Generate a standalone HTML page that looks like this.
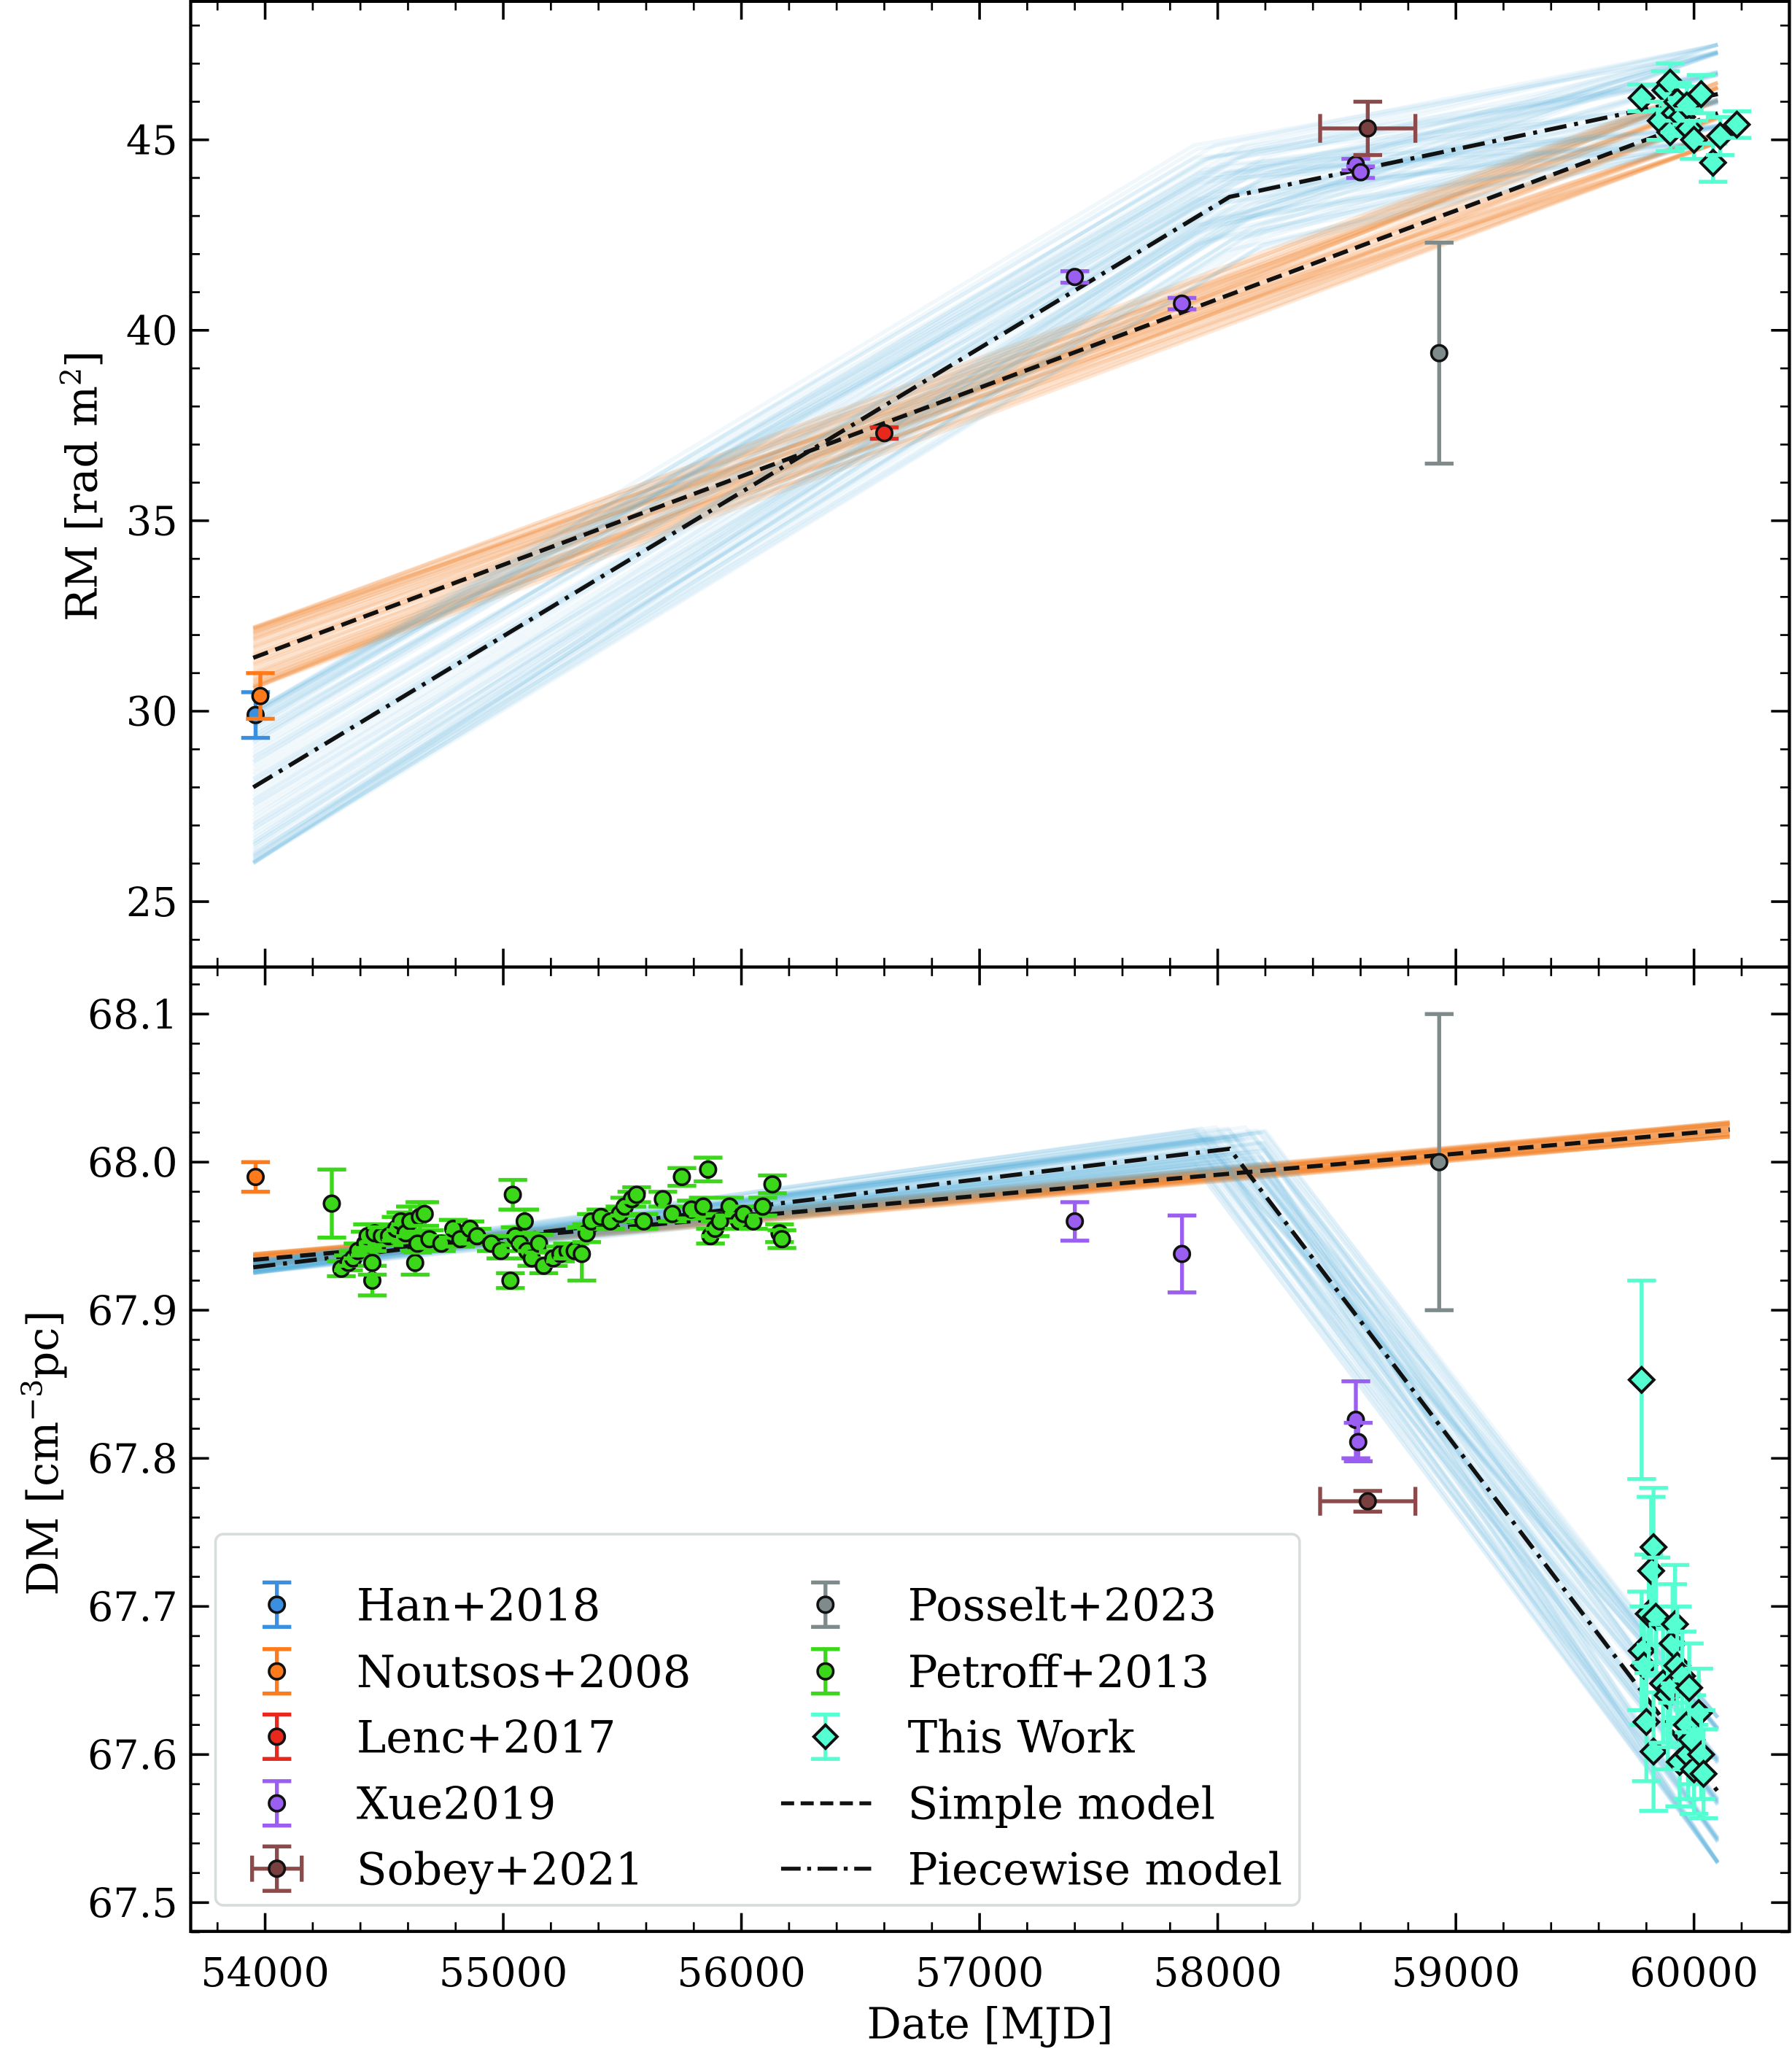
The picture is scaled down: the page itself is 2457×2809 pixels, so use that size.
<!DOCTYPE html>
<html><head><meta charset="utf-8"><style>
html,body{margin:0;padding:0;background:#fff}
svg{display:block}
text{font-family:"DejaVu Serif","Liberation Serif",serif;fill:#000}
</style></head><body>
<svg id="chart" xmlns="http://www.w3.org/2000/svg" width="2457" height="2809" viewBox="0 0 1372 1568" preserveAspectRatio="none" style="position:absolute;left:0;top:0">
<defs><clipPath id="ct"><rect x="146" y="1" width="1224" height="739"/></clipPath></defs>
<g id="topPanel"></g>
<g id="botPanel"></g>
<g id="axesG"></g>
</svg>
<script>
// ---------- data ----------
const hanRM=[[53960,29.9,0.6]];
const noutRM=[[53980,30.4,0.6]];
const lencRM=[[56600,37.3,0.15]];
const xueRM=[[57400,41.4,0.15],[57850,40.7,0.15],[58580,44.35,0.15],[58600,44.15,0.15]];
const sobeyRM=[[58630,45.3,0.7,200]];
const posseltRM=[[58930,39.4,2.9]];
const thisRM=[[59780,46.1,0.35],[59860,45.5,0.5],[59880,46.3,0.5],[59900,46.5,0.5],[59900,45.2,0.5],[59920,45.7,0.5],[59930,46.0,0.5],[59950,45.6,0.5],[59970,45.9,0.5],[59980,45.3,0.5],[60000,45.0,0.5],[60030,46.2,0.5],[60080,44.4,0.5],[60110,45.1,0.5],[60180,45.4,0.35]];
const simpleRM=[[53950,31.4],[60100,45.7]];
const pieceRM=[[53950,28.0],[58050,43.5],[60100,46.2]];

const noutDM=[[53960,67.99,0.01]];
const petroffDM=[[54280,67.972,0.023],[54320,67.928,0.005],[54350,67.932,0.005],[54370,67.935,0.005],[54390,67.94,0.005],[54420,67.945,0.008],[54430,67.95,0.008],[54450,67.92,0.01],[54450,67.932,0.008],[54460,67.952,0.006],[54490,67.95,0.006],[54520,67.95,0.006],[54550,67.955,0.008],[54570,67.96,0.006],[54590,67.952,0.006],[54610,67.96,0.01],[54630,67.932,0.008],[54640,67.945,0.006],[54650,67.963,0.01],[54670,67.965,0.008],[54690,67.948,0.006],[54740,67.945,0.005],[54790,67.955,0.006],[54820,67.948,0.005],[54860,67.955,0.005],[54890,67.95,0.005],[54950,67.945,0.005],[54990,67.94,0.005],[55030,67.92,0.005],[55040,67.978,0.01],[55050,67.95,0.006],[55070,67.945,0.005],[55090,67.96,0.008],[55100,67.94,0.005],[55120,67.935,0.005],[55150,67.945,0.006],[55170,67.93,0.005],[55210,67.935,0.005],[55240,67.938,0.005],[55270,67.94,0.005],[55300,67.94,0.005],[55330,67.938,0.018],[55350,67.952,0.006],[55370,67.96,0.005],[55410,67.963,0.005],[55450,67.96,0.005],[55490,67.965,0.005],[55510,67.97,0.006],[55540,67.975,0.005],[55560,67.978,0.005],[55590,67.96,0.005],[55670,67.975,0.005],[55710,67.965,0.005],[55750,67.99,0.006],[55790,67.968,0.006],[55840,67.97,0.006],[55860,67.995,0.008],[55870,67.95,0.005],[55890,67.955,0.005],[55910,67.96,0.005],[55950,67.97,0.006],[55990,67.96,0.005],[56010,67.965,0.005],[56050,67.96,0.005],[56090,67.97,0.006],[56130,67.985,0.006],[56160,67.952,0.006],[56170,67.948,0.006]];
const xueDM=[[57400,67.96,0.013],[57850,67.938,0.026],[58580,67.826,0.026],[58590,67.811,0.013]];
const sobeyDM=[[58630,67.771,0.007,200]];
const posseltDM=[[58930,68.0,0.1]];
const thisDM=[[59780,67.853,0.067],[59780,67.67,0.04],[59790,67.66,0.04],[59800,67.622,0.04],[59810,67.695,0.04],[59820,67.724,0.05],[59830,67.74,0.04],[59840,67.693,0.04],[59830,67.602,0.04],[59870,67.648,0.04],[59890,67.64,0.05],[59900,67.645,0.04],[59910,67.675,0.04],[59920,67.688,0.04],[59930,67.66,0.04],[59940,67.595,0.03],[59950,67.653,0.03],[59970,67.62,0.03],[59975,67.6,0.03],[59990,67.61,0.03],[60000,67.59,0.03],[60020,67.628,0.03],[60030,67.6,0.03],[60040,67.587,0.03],[59980,67.645,0.03]];
const simpleDM=[[53950,67.934],[60150,68.022]];
const pieceDM=[[53950,67.929],[58050,68.009],[60100,67.575]];

// ---------- scales ----------
const X0=146,X1=1370;
const xs=m=>203+(m-54000)*0.18233;
const yT=v=>107+(45-v)*29.15;
const yB=v=>776+(68.1-v)*1133.3;
const NS="http://www.w3.org/2000/svg";
function el(p,tag,attrs){const e=document.createElementNS(NS,tag);for(const k in attrs)e.setAttribute(k,attrs[k]);p.appendChild(e);return e;}
const topG=document.getElementById('topPanel'),botG=document.getElementById('botPanel'),axesG=document.getElementById('axesG');
const gt=el(topG,'g',{'clip-path':'url(#ct)'});
const gb=el(botG,'g',{});

// ---------- model sample bands ----------
const N=80;
function sampleLines(g,ys,pts,color,spreadA,spreadB,name){
  for(let i=0;i<N;i++){
    const a=Math.sin(i*2.399)*spreadA, b=Math.cos(i*1.713)*spreadB;
    const n=pts.length;
    const d=pts.map((p,j)=>{const t=j/(n-1);const mid=(j>0&&j<n-1);const mj=p[0]+(mid?Math.sin(i*3.1)*150:0);return xs(mj).toFixed(1)+','+ys(p[1]+a*(1-t)*(1-t)+b*t*t+(mid?a*0.3:0)).toFixed(1);}).join(' ');
    const l=el(g,'polyline',{points:d,fill:'none',stroke:color,'stroke-width':3,'stroke-opacity':0.09});
    
    
  }
}
sampleLines(gt,yT,simpleRM,'#f5892a',0.8,0.8,'simple-model-sample');
sampleLines(gt,yT,pieceRM,'#58b0dc',2.0,1.3,'piecewise-model-sample');
sampleLines(gb,yB,simpleDM,'#f5892a',0.004,0.005,'simple-model-sample');
sampleLines(gb,yB,pieceDM,'#58b0dc',0.004,0.05,'piecewise-model-sample');

function modelLine(g,ys,pts,dash,name){
  const l=el(g,'polyline',{points:pts.map(p=>xs(p[0]).toFixed(1)+','+ys(p[1]).toFixed(1)).join(' '),fill:'none',stroke:'#111','stroke-width':3.2,'stroke-dasharray':dash});
  
  
}
modelLine(gt,yT,simpleRM,'12,6','simple-model-line');
modelLine(gt,yT,pieceRM,'17,6,3,6','piecewise-model-line');
modelLine(gb,yB,simpleDM,'12,6','simple-model-line');
modelLine(gb,yB,pieceDM,'17,6,3,6','piecewise-model-line');

// ---------- points ----------
function series(g,ys,data,ecol,fcol,shape,name){
  data.forEach(d=>{
    const x=xs(d[0]),y=ys(d[1]),y1=ys(d[1]+d[2]),y2=ys(d[1]-d[2]);
    const grp=el(g,'g',{});
    
    
    el(grp,'line',{x1:x,x2:x,y1:y1,y2:y2,stroke:ecol,'stroke-width':3});
    el(grp,'line',{x1:x-11,x2:x+11,y1:y1,y2:y1,stroke:ecol,'stroke-width':3});
    el(grp,'line',{x1:x-11,x2:x+11,y1:y2,y2:y2,stroke:ecol,'stroke-width':3});
    if(d[3]){const xa=xs(d[0]-d[3]),xb=xs(d[0]+d[3]);
      el(grp,'line',{x1:xa,x2:xb,y1:y,y2:y,stroke:ecol,'stroke-width':3});
      el(grp,'line',{x1:xa,x2:xa,y1:y-11,y2:y+11,stroke:ecol,'stroke-width':3});
      el(grp,'line',{x1:xb,x2:xb,y1:y-11,y2:y+11,stroke:ecol,'stroke-width':3});}
    if(shape==='d') el(grp,'polygon',{points:`${x},${y-9.5} ${x+9.5},${y} ${x},${y+9.5} ${x-9.5},${y}`,fill:fcol,stroke:'#111','stroke-width':2.2});
    else el(grp,'circle',{cx:x,cy:y,r:6,fill:fcol,stroke:'#111','stroke-width':2});
  });
}
const C={han:'#3b8fe0',nout:'#ff7a1a',lenc:'#e8281c',xue:'#9a5ef0',sob:'#8c4a4a',pos:'#7f8b8b',pet:'#3ad818',tw:'#55ffd2'};
series(gt,yT,hanRM,C.han,C.han,'o','han2018');
series(gt,yT,noutRM,C.nout,C.nout,'o','noutsos2008');
series(gt,yT,lencRM,C.lenc,C.lenc,'o','lenc2017');
series(gt,yT,xueRM,C.xue,C.xue,'o','xue2019');
series(gt,yT,sobeyRM,C.sob,'#7a4040','o','sobey2021');
series(gt,yT,posseltRM,C.pos,C.pos,'o','posselt2023');
series(gt,yT,thisRM,C.tw,C.tw,'d','this-work');
series(gb,yB,noutDM,C.nout,C.nout,'o','noutsos2008');
series(gb,yB,petroffDM,C.pet,C.pet,'o','petroff2013');
series(gb,yB,xueDM,C.xue,C.xue,'o','xue2019');
series(gb,yB,sobeyDM,C.sob,'#7a4040','o','sobey2021');
series(gb,yB,posseltDM,C.pos,C.pos,'o','posselt2023');
series(gb,yB,thisDM,C.tw,C.tw,'d','this-work');

// ---------- axes ----------
function line(x1,y1,x2,y2,w){el(axesG,'line',{x1,y1,x2,y2,stroke:'#000','stroke-width':w});}
el(axesG,'rect',{x:X0,y:1,width:X1-X0,height:1477,fill:'none',stroke:'#000','stroke-width':2.4});
line(X0,740,X1,740,2.4);
for(let m=53800;m<=60400;m+=200){const x=xs(m),maj=m%1000===0,L=maj?14:7;
  [[1,1],[740,1],[740,-1],[1478,-1]].forEach(([y,s])=>line(x,y,x,y+s*L,maj?2:1.5));
  if(maj){const t=el(axesG,'text',{x:x,y:1520,'font-size':31,'text-anchor':'middle'});t.textContent=m;}}
for(let v=24;v<=48;v++){const y=yT(v),maj=v%5===0,L=maj?14:7;
  line(X0,y,X0+L,y,maj?2:1.5);line(X1,y,X1-L,y,maj?2:1.5);
  if(maj){const t=el(axesG,'text',{x:136,y:y+11,'font-size':31,'text-anchor':'end'});t.textContent=v;}}
for(let k=0;k<=32;k++){const r=6748+k*2;if(r>6813)break;const y=yB(r/100),maj=r%10===0,L=maj?14:7;
  line(X0,y,X0+L,y,maj?2:1.5);line(X1,y,X1-L,y,maj?2:1.5);
  if(maj){const t=el(axesG,'text',{x:136,y:y+11,'font-size':31,'text-anchor':'end'});t.textContent=(r/100).toFixed(1);}}
</script>
<svg style="position:absolute;left:0;top:0" width="2457" height="2809" viewBox="0 0 1372 1568" preserveAspectRatio="none">
<text x="758" y="1560" font-size="33" text-anchor="middle">Date [MJD]</text>
<text transform="translate(74,372) rotate(-90)" font-size="33" text-anchor="middle">RM [rad m<tspan font-size="22" dy="-12">2</tspan><tspan dy="12">]</tspan></text>
<text transform="translate(44,1112) rotate(-90)" font-size="33" text-anchor="middle">DM [cm<tspan font-size="22" dy="-12">−3</tspan><tspan dy="12">pc]</tspan></text>
<g font-size="34">
<rect x="165" y="1174" width="830" height="284" rx="6" fill="#fff" fill-opacity="0.85" stroke="#d8dcdc" stroke-width="2"/>
<g><line x1="212" x2="212" y1="1211" y2="1245" stroke="#3b8fe0" stroke-width="3"/><line x1="201" x2="223" y1="1211" y2="1211" stroke="#3b8fe0" stroke-width="3"/><line x1="201" x2="223" y1="1245" y2="1245" stroke="#3b8fe0" stroke-width="3"/><circle cx="212" cy="1228" r="6" fill="#3b8fe0" stroke="#111" stroke-width="2"/><text x="273" y="1240">Han+2018</text></g>
<g><line x1="212" x2="212" y1="1262" y2="1296" stroke="#ff7a1a" stroke-width="3"/><line x1="201" x2="223" y1="1262" y2="1262" stroke="#ff7a1a" stroke-width="3"/><line x1="201" x2="223" y1="1296" y2="1296" stroke="#ff7a1a" stroke-width="3"/><circle cx="212" cy="1279" r="6" fill="#ff7a1a" stroke="#111" stroke-width="2"/><text x="273" y="1291">Noutsos+2008</text></g>
<g><line x1="212" x2="212" y1="1312" y2="1346" stroke="#e8281c" stroke-width="3"/><line x1="201" x2="223" y1="1312" y2="1312" stroke="#e8281c" stroke-width="3"/><line x1="201" x2="223" y1="1346" y2="1346" stroke="#e8281c" stroke-width="3"/><circle cx="212" cy="1329" r="6" fill="#e8281c" stroke="#111" stroke-width="2"/><text x="273" y="1341">Lenc+2017</text></g>
<g><line x1="212" x2="212" y1="1363" y2="1397" stroke="#9a5ef0" stroke-width="3"/><line x1="201" x2="223" y1="1363" y2="1363" stroke="#9a5ef0" stroke-width="3"/><line x1="201" x2="223" y1="1397" y2="1397" stroke="#9a5ef0" stroke-width="3"/><circle cx="212" cy="1380" r="6" fill="#9a5ef0" stroke="#111" stroke-width="2"/><text x="273" y="1392">Xue2019</text></g>
<g><line x1="212" x2="212" y1="1413" y2="1447" stroke="#8c4a4a" stroke-width="3"/><line x1="201" x2="223" y1="1413" y2="1413" stroke="#8c4a4a" stroke-width="3"/><line x1="201" x2="223" y1="1447" y2="1447" stroke="#8c4a4a" stroke-width="3"/><line x1="193" x2="231" y1="1430" y2="1430" stroke="#8c4a4a" stroke-width="3"/><line x1="193" x2="193" y1="1420" y2="1440" stroke="#8c4a4a" stroke-width="3"/><line x1="231" x2="231" y1="1420" y2="1440" stroke="#8c4a4a" stroke-width="3"/><circle cx="212" cy="1430" r="6" fill="#7a4040" stroke="#111" stroke-width="2"/><text x="273" y="1442">Sobey+2021</text></g>
<g><line x1="632" x2="632" y1="1211" y2="1245" stroke="#7f8b8b" stroke-width="3"/><line x1="621" x2="643" y1="1211" y2="1211" stroke="#7f8b8b" stroke-width="3"/><line x1="621" x2="643" y1="1245" y2="1245" stroke="#7f8b8b" stroke-width="3"/><circle cx="632" cy="1228" r="6" fill="#7f8b8b" stroke="#111" stroke-width="2"/><text x="695" y="1240">Posselt+2023</text></g>
<g><line x1="632" x2="632" y1="1262" y2="1296" stroke="#3ad818" stroke-width="3"/><line x1="621" x2="643" y1="1262" y2="1262" stroke="#3ad818" stroke-width="3"/><line x1="621" x2="643" y1="1296" y2="1296" stroke="#3ad818" stroke-width="3"/><circle cx="632" cy="1279" r="6" fill="#3ad818" stroke="#111" stroke-width="2"/><text x="695" y="1291">Petroff+2013</text></g>
<g><line x1="632" x2="632" y1="1312" y2="1346" stroke="#55ffd2" stroke-width="3"/><line x1="621" x2="643" y1="1312" y2="1312" stroke="#55ffd2" stroke-width="3"/><line x1="621" x2="643" y1="1346" y2="1346" stroke="#55ffd2" stroke-width="3"/><polygon points="632,1320 641,1329 632,1338 623,1329" fill="#55ffd2" stroke="#111" stroke-width="2.2"/><text x="695" y="1341">This Work</text></g>
<g><line x1="598" x2="667" y1="1380" y2="1380" stroke="#111" stroke-width="3" stroke-dasharray="10,5"/><text x="695" y="1392">Simple model</text></g>
<g><line x1="598" x2="667" y1="1430" y2="1430" stroke="#111" stroke-width="3" stroke-dasharray="15,5,3,5"/><text x="695" y="1442">Piecewise model</text></g>
</g>
</svg>
</body></html>
